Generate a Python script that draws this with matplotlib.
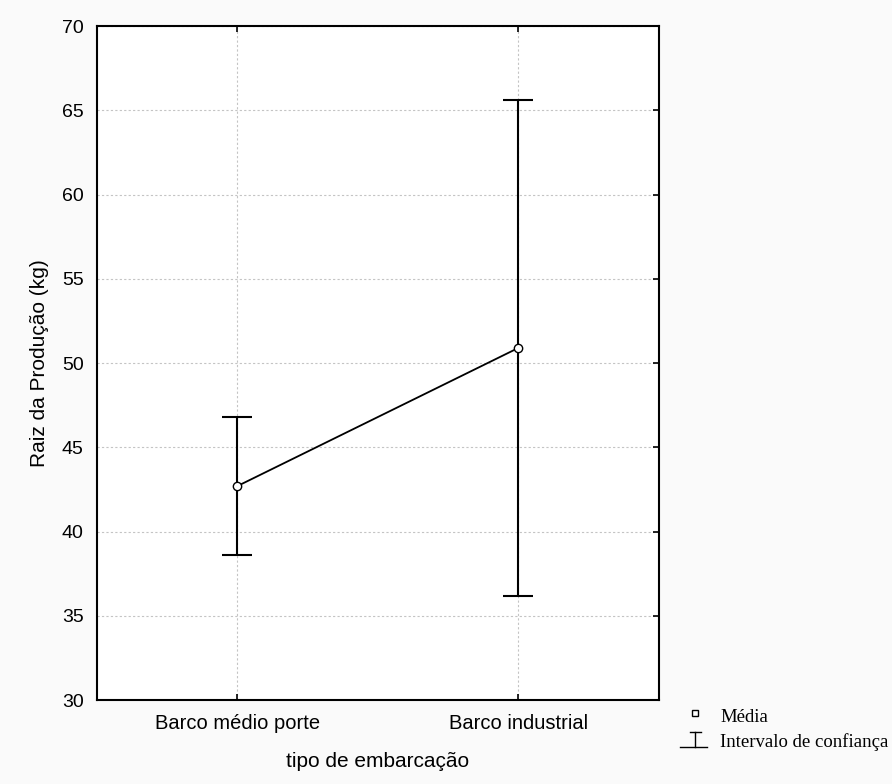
import matplotlib
matplotlib.use('Agg')
import matplotlib.pyplot as plt
from matplotlib.lines import Line2D
import numpy as np

# data
categories = ['Barco médio porte', 'Barco industrial']
means = [42.7, 50.9]
ci_low = [38.6, 36.2]
ci_high = [46.8, 65.6]

plt.rcParams['font.family'] = ['Liberation Sans', 'DejaVu Sans']

fig = plt.figure(figsize=(8.92, 7.84), dpi=100, facecolor='#fafafa')
ax = fig.add_axes([0.1087, 0.1071, 0.7388 - 0.1087, 0.9668 - 0.1071])
ax.set_facecolor('white')

x = np.arange(len(categories))
m = np.array(means)
yerr = [m - np.array(ci_low), np.array(ci_high) - m]

ax.errorbar(x, m, yerr=yerr, fmt='none', ecolor='black', elinewidth=1.5,
            capsize=10.5, capthick=1.5, zorder=3)
ax.plot(x, m, color='black', lw=1.3, marker='o', markersize=6,
        markerfacecolor='white', markeredgecolor='black', markeredgewidth=1.0,
        zorder=4)

ax.set_xlim(-0.5, 1.5)
ax.set_ylim(30, 70)
ax.set_xticks(x)
ax.set_xticklabels(categories, fontsize=14.5)
ax.set_yticks(np.arange(30, 71, 5))
ax.tick_params(direction='in', length=4, width=1.2, top=True, right=True)
ax.tick_params(axis='x', pad=10)
ax.tick_params(axis='y', labelsize=14, pad=9.5, left=False)

ax.grid(True, color='#c4c4c4', linestyle=(0, (2, 2)), linewidth=0.8)
ax.set_axisbelow(True)
for s in ax.spines.values():
    s.set_linewidth(1.5)
    s.set_color('black')

ax.set_xlabel('tipo de embarcação', fontsize=15, labelpad=14)
ax.set_ylabel('Raiz da Produção (kg)', fontsize=15, labelpad=9)

# legend drawn in figure coords
W, H = 892.0, 784.0
fig.add_artist(Line2D([694.5 / W], [1 - 712.5 / H], marker='s', markersize=5,
                      markerfacecolor='white', markeredgecolor='black',
                      markeredgewidth=1.0, transform=fig.transFigure))
fig.add_artist(Line2D([690 / W, 701 / W], [1 - 732 / H, 1 - 732 / H],
                      color='black', lw=1.0, transform=fig.transFigure))
fig.add_artist(Line2D([695 / W, 695 / W], [1 - 732 / H, 1 - 747 / H],
                      color='black', lw=1.0, transform=fig.transFigure))
fig.add_artist(Line2D([680 / W, 707 / W], [1 - 747 / H, 1 - 747 / H],
                      color='black', lw=1.0, transform=fig.transFigure))
fig.text(720 / W, 1 - 717 / H, 'Média', fontsize=13.5, va='center',
         family=['Liberation Serif', 'DejaVu Serif'])
fig.text(720 / W, 1 - 742 / H, 'Intervalo de confiança', fontsize=13.5,
         va='center', family=['Liberation Serif', 'DejaVu Serif'])

plt.savefig('out.png', dpi=100, facecolor=fig.get_facecolor())
